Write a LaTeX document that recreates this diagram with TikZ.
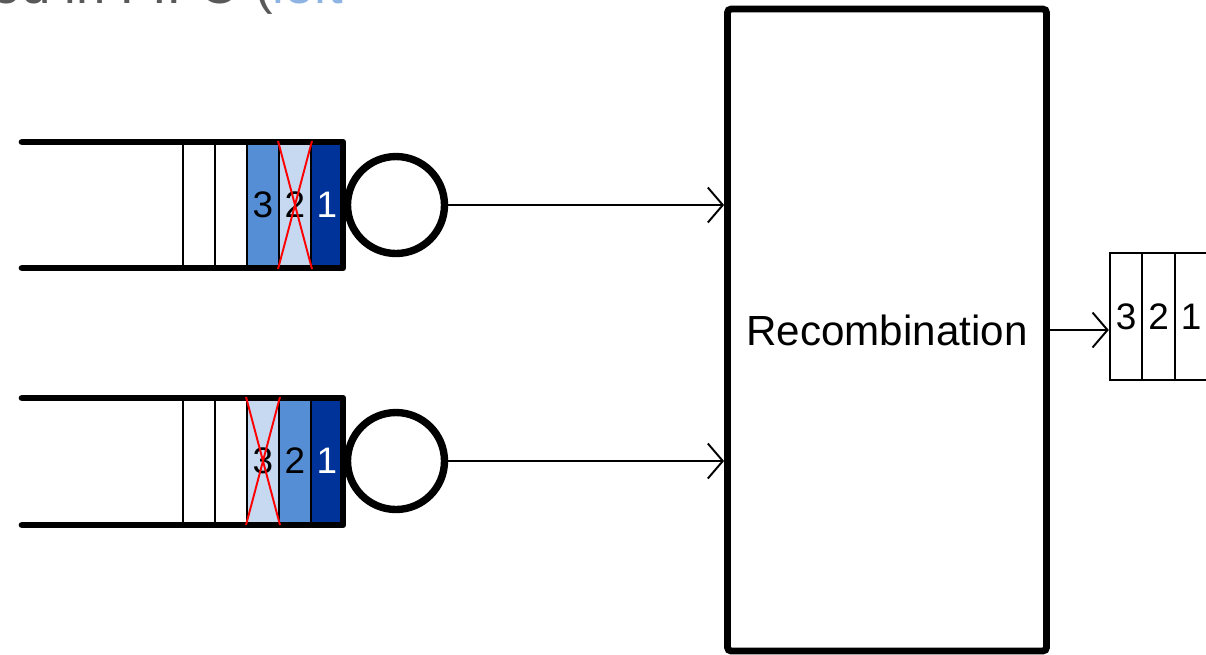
\documentclass[tikz,border=0pt]{standalone}
\usepackage{fontspec}
\setmainfont{Liberation Sans}
\usetikzlibrary{arrows.meta}
\definecolor{qdark}{HTML}{003399}
\definecolor{qmid}{HTML}{558ED5}
\definecolor{qlight}{HTML}{C6D9F1}
\definecolor{capgray}{HTML}{595959}
\definecolor{capblue}{HTML}{8DB4E2}
\tikzset{
  thickline/.style={line width=3.8pt, line cap=round, line join=round},
  qcell/.style={draw, line width=1.1pt, minimum width=0.64cm, minimum height=2.52cm, inner sep=0pt, font=\fontsize{21}{24}\selectfont},
  ocell/.style={draw, line width=1.1pt, minimum width=0.65cm, minimum height=2.54cm, inner sep=0pt, font=\fontsize{21}{24}\selectfont},
  server/.style={circle, draw, line width=4.2pt, minimum size=1.94cm, inner sep=0pt, fill=white},
  crossline/.style={red, line width=1.1pt},
  flow/.style={line width=1.1pt, -{Straight Barb[length=0.3cm,width=0.7cm,line width=1.1pt]}},
  recbox/.style={draw, line width=3.9pt, rounded corners=2pt, minimum width=6.38cm, minimum height=12.84cm, inner sep=0pt, font=\fontsize{24}{28}\selectfont}
}
\begin{document}
\begin{tikzpicture}[x=0.02cm,y=-0.02cm]
\useasboundingbox (0,0) rectangle (1206,654);
\clip (0,0) rectangle (1206,654);
\fill[white] (0,0) rectangle (1206,654);
% caption fragment cut by the top edge
\node[anchor=base west, inner sep=0pt, font=\fontsize{30}{34}\selectfont] (cap) at (-35,3) {\textcolor{capgray}{sed in FIFO (}\textcolor{capblue}{left}};
% queue 1
\node[qcell] (q1e1) at (199,205) {};
\node[qcell] (q1e2) at (231,205) {};
\node[qcell, fill=qmid] (q1c3) at (263,205) {3};
\node[qcell, fill=qlight] (q1c2) at (295,205) {2};
\node[qcell, fill=qdark, text=white] (q1c1) at (327,205) {1};
\draw[thickline] (22,142) -- (343,142) -- (343,268) -- (22,268);
\draw[crossline] (q1c2.north west) -- (q1c2.south east);
\draw[crossline] (q1c2.north east) -- (q1c2.south west);
\node[server] (s1) at (396,205) {};
% queue 2
\node[qcell] (q2e1) at (199,461) {};
\node[qcell] (q2e2) at (231,461) {};
\node[qcell, fill=qlight] (q2c3) at (263,461) {3};
\node[qcell, fill=qmid] (q2c2) at (295,461) {2};
\node[qcell, fill=qdark, text=white] (q2c1) at (327,461) {1};
\draw[thickline] (22,398) -- (343,398) -- (343,525) -- (22,525);
\draw[crossline] (q2c3.north west) -- (q2c3.south east);
\draw[crossline] (q2c3.north east) -- (q2c3.south west);
\node[server] (s2) at (396,461) {};
% recombination
\node[recbox] (box) at (887,330) {Recombination};
% output
\node[ocell] (o3) at (1126,316.5) {3};
\node[ocell] (o2) at (1158.5,316.5) {2};
\node[ocell] (o1) at (1191,316.5) {1};
% connectors
\draw[flow] (s1.east) -- (s1.east -| box.west);
\draw[flow] (s2.east) -- (s2.east -| box.west);
\draw[flow] (box.east) -- (box.east -| o3.west);
\end{tikzpicture}
\end{document}
